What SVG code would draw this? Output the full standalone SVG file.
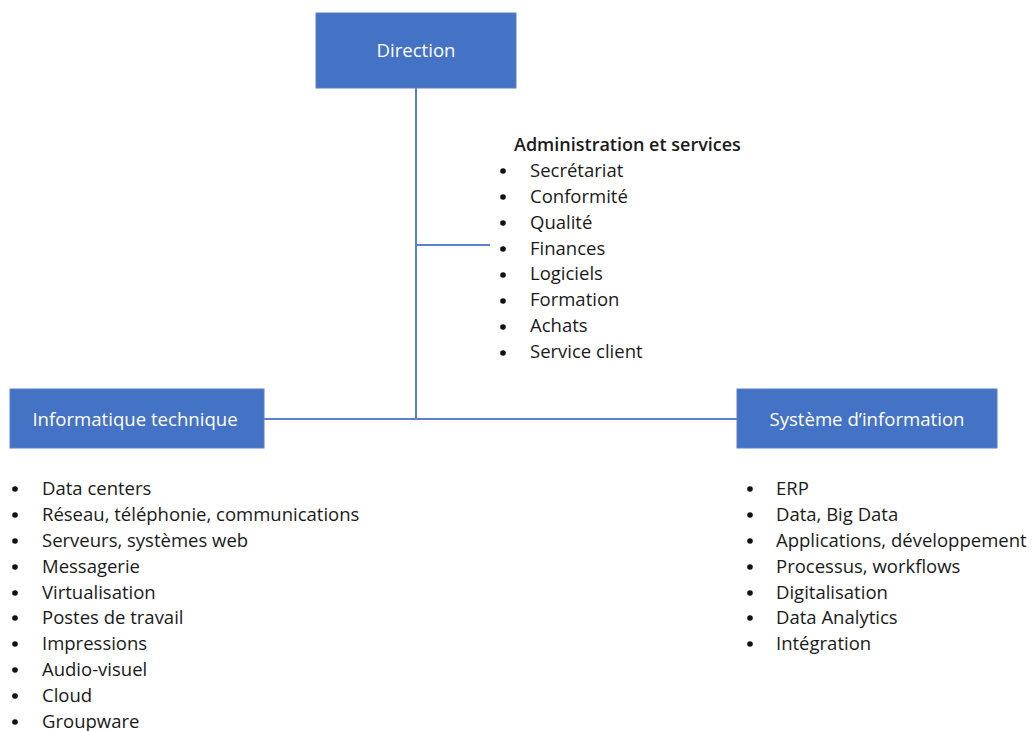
<svg xmlns="http://www.w3.org/2000/svg" width="1032" height="731" viewBox="0 0 1032 731">
<style>
.box{fill:#4472C4;stroke:#5b80c8;stroke-width:1}
.lbl{font-family:"Open Sans","Noto Sans","Liberation Sans",sans-serif;font-size:18.6px;font-weight:500;fill:#ffffff;text-anchor:middle}
.t{font-family:"Open Sans","Noto Sans","Liberation Sans",sans-serif;font-size:18.5px;fill:#1a1a1a}
.b{font-weight:600;font-size:18px}
.conn{stroke:#5b80cc;stroke-width:2;fill:none}
.dot{fill:#111}
</style>
<rect width="1032" height="731" fill="#ffffff"/>
<g id="connectors">
<line class="conn" x1="416" y1="88" x2="416" y2="419"/>
<line class="conn" x1="264" y1="419" x2="737" y2="419"/>
<line class="conn" x1="416" y1="245" x2="490" y2="245"/>
</g>
<g id="direction">
<rect class="box" x="316" y="13" width="200" height="75"/>
<text class="lbl" x="416" y="57">Direction</text>
</g>
<g id="admin">
<text class="t b" x="514" y="151">Administration et services</text>
<g class="dot">
<circle cx="503" cy="171" r="2.8"/><circle cx="503" cy="197" r="2.8"/><circle cx="503" cy="223" r="2.8"/><circle cx="503" cy="249" r="2.8"/>
<circle cx="503" cy="275" r="2.8"/><circle cx="503" cy="301" r="2.8"/><circle cx="503" cy="327" r="2.8"/><circle cx="503" cy="353" r="2.8"/>
</g>
<text class="t" x="530" y="177">Secrétariat</text>
<text class="t" x="530" y="203">Conformité</text>
<text class="t" x="530" y="229">Qualité</text>
<text class="t" x="530" y="255">Finances</text>
<text class="t" x="530" y="280">Logiciels</text>
<text class="t" x="530" y="306">Formation</text>
<text class="t" x="530" y="332">Achats</text>
<text class="t" x="530" y="358">Service client</text>
</g>
<g id="info-tech">
<rect class="box" x="10" y="389" width="254" height="59"/>
<text class="lbl" x="135" y="426">Informatique technique</text>
<g class="dot">
<circle cx="15" cy="489" r="2.8"/><circle cx="15" cy="515" r="2.8"/><circle cx="15" cy="541" r="2.8"/><circle cx="15" cy="567" r="2.8"/><circle cx="15" cy="593" r="2.8"/>
<circle cx="15" cy="618" r="2.8"/><circle cx="15" cy="644" r="2.8"/><circle cx="15" cy="670" r="2.8"/><circle cx="15" cy="696" r="2.8"/><circle cx="15" cy="722" r="2.8"/>
</g>
<text class="t" x="42" y="495">Data centers</text>
<text class="t" x="42" y="521">Réseau, téléphonie, communications</text>
<text class="t" x="42" y="547">Serveurs, systèmes web</text>
<text class="t" x="42" y="573">Messagerie</text>
<text class="t" x="42" y="599">Virtualisation</text>
<text class="t" x="42" y="624">Postes de travail</text>
<text class="t" x="42" y="650">Impressions</text>
<text class="t" x="42" y="676">Audio-visuel</text>
<text class="t" x="42" y="702">Cloud</text>
<text class="t" x="42" y="728">Groupware</text>
</g>
<g id="sys-info">
<rect class="box" x="737" y="389" width="260" height="59"/>
<text class="lbl" x="867" y="426">Système d’information</text>
<g class="dot">
<circle cx="750" cy="489" r="2.8"/><circle cx="750" cy="515" r="2.8"/><circle cx="750" cy="541" r="2.8"/><circle cx="750" cy="567" r="2.8"/>
<circle cx="750" cy="593" r="2.8"/><circle cx="750" cy="618" r="2.8"/><circle cx="750" cy="644" r="2.8"/>
</g>
<text class="t" x="776" y="495">ERP</text>
<text class="t" x="776" y="521">Data, Big Data</text>
<text class="t" x="776" y="547">Applications, développement</text>
<text class="t" x="776" y="573">Processus, workflows</text>
<text class="t" x="776" y="599">Digitalisation</text>
<text class="t" x="776" y="624">Data Analytics</text>
<text class="t" x="776" y="650">Intégration</text>
</g>
</svg>
